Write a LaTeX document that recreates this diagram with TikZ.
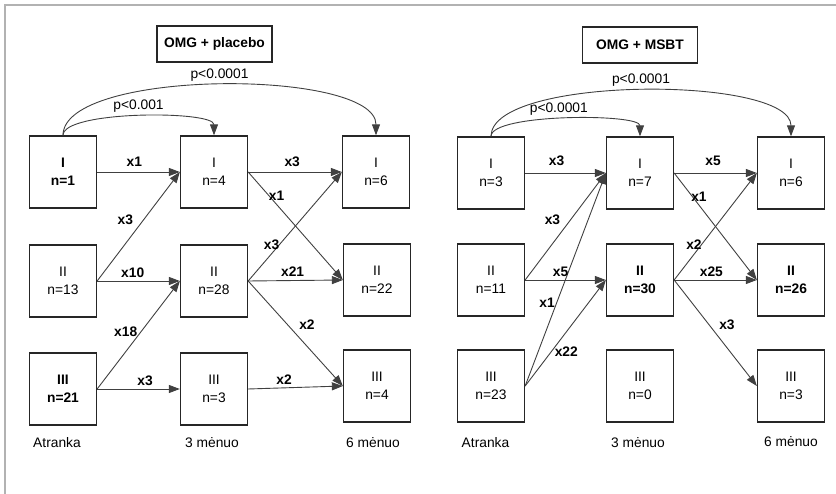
\documentclass[tikz,border=0pt]{standalone}
\usepackage{fontspec}
\setmainfont{Liberation Sans}
\usetikzlibrary{positioning}
\usetikzlibrary{arrows.meta}

\newcommand{\figfont}{\fontsize{13.8}{18.5}\selectfont}

\tikzset{
  grp/.style={draw=black!85, line width=1.3pt, minimum width=67pt,
    minimum height=72pt, align=center, inner sep=2pt},
  hl/.style={font=\figfont\bfseries},
  arm/.style={draw=black!75, line width=0.9pt,
    -{Triangle[length=11pt,width=8pt]}},
  lbl/.style={font=\figfont\bfseries},
  title/.style={draw=black!85, line width=1.3pt, minimum width=115pt,
    minimum height=36pt, font=\figfont\bfseries},
  pval/.style={font=\figfont},
}

\begin{document}
\begin{tikzpicture}[x=1pt, y=-1pt, font=\figfont]
\useasboundingbox (0,0) rectangle (836,494);
\draw[black!30, line width=1.5pt] (5,494) -- (5,5) -- (836,5);

% OMG + placebo
\node[title] (tl) at (214.5,44) {OMG + placebo};
\node[grp,hl] (L11) at (63,172) {I\\n=1};
\node[grp] (L12) at (214,172) {I\\n=4};
\node[grp] (L13) at (376,172) {I\\n=6};
\node[grp] (L21) at (63,281) {II\\n=13};
\node[grp] (L22) at (214,281) {II\\n=28};
\node[grp] (L23) at (377,280) {II\\n=22};
\node[grp,hl] (L31) at (63,389) {III\\n=21};
\node[grp] (L32) at (214,389) {III\\n=3};
\node[grp] (L33) at (377,386) {III\\n=4};
\node[below=8pt of L31, xshift=-6pt] (la1) {Atranka};
\node[below=8pt of L32, xshift=-2pt] (la2) {3 mėnuo};
\node[below=11pt of L33, xshift=-4pt] (la3) {6 mėnuo};

\draw[arm] (L11.north) .. controls +(0,-25) and +(0,-25) .. (L12.north)
  node[pval, pos=0.5, above] {p<0.001};
\draw[arm] (L11.north) .. controls +(0,-67) and +(0,-67) .. (L13.north)
  node[pval, pos=0.5, above] {p<0.0001};
\draw[arm] (L11.east) -- node[lbl, pos=0.45, above=2pt] {x1} (L12.west);
\draw[arm] (L21.east) -- node[lbl, pos=0.48, above left] {x3} (L12.west);
\draw[arm] (L21.east) -- node[lbl, pos=0.43, above] {x10} (L22.west);
\draw[arm] (L31.east) -- node[lbl, pos=0.53, left] {x18} (L22.west);
\draw[arm] (L31.east) -- node[lbl, pos=0.58, above] {x3} (L32.west);
\draw[arm] (L12.east) -- node[lbl, pos=0.47, above=2pt] {x3} (L13.west);
\draw[arm] (L12.east) -- node[lbl, pos=0.3, above] {x1} (L23.west);
\draw[arm] (L22.east) -- node[lbl, pos=0.33, left=-4pt] {x3} (L13.west);
\draw[arm] (L22.east) -- node[lbl, pos=0.47, above] {x21} (L23.west);
\draw[arm] (L22.east) -- node[lbl, pos=0.5, above right] {x2} (L33.west);
\draw[arm] (L32.east) -- node[lbl, pos=0.38, above] {x2} (L33.west);

% OMG + MSBT
\node[title] (tr) at (640,45) {OMG + MSBT};
\node[grp] (R11) at (491,173) {I\\n=3};
\node[grp] (R12) at (640,173) {I\\n=7};
\node[grp] (R13) at (791,173) {I\\n=6};
\node[grp] (R21) at (491,280) {II\\n=11};
\node[grp,hl] (R22) at (640,280) {II\\n=30};
\node[grp,hl] (R23) at (791,280) {II\\n=26};
\node[grp] (R31) at (491,386) {III\\n=23};
\node[grp] (R32) at (640,386) {III\\n=0};
\node[grp] (R33) at (791,386) {III\\n=3};
\node[below=11pt of R31, xshift=-5.5pt] (ra1) {Atranka};
\node[below=11pt of R32, xshift=-2pt] (ra2) {3 mėnuo};
\node[below=10pt of R33] (ra3) {6 mėnuo};

\draw[arm] (R11.north) .. controls +(0,-23) and +(0,-23) .. (R12.north)
  node[pval, pos=0.47, above] {p<0.0001};
\draw[arm] (R11.north) .. controls +(0,-61) and +(0,-61) .. (R13.north)
  node[pval, pos=0.5, above] {p<0.0001};
\draw[arm] (R11.east) -- node[lbl, pos=0.39, above=4pt] {x3} (R12.west);
\draw[arm] (R21.east) -- node[lbl, pos=0.48, above left] {x3} (R12.west);
\draw[arm] (R31.east) -- node[lbl, pos=0.39, left=-2pt] {x1} (R12.west);
\draw[arm] (R21.east) -- node[lbl, pos=0.44, above] {x5} (R22.west);
\draw[arm] (R31.east) -- node[lbl, pos=0.32, right] {x22} (R22.west);
\draw[arm] (R12.east) -- node[lbl, pos=0.47, above=4pt] {x5} (R13.west);
\draw[arm] (R12.east) -- node[lbl, pos=0.3, above] {x1} (R23.west);
\draw[arm] (R22.east) -- node[lbl, pos=0.33, left=-4pt] {x2} (R13.west);
\draw[arm] (R22.east) -- node[lbl, pos=0.45, above] {x25} (R23.west);
\draw[arm] (R22.east) -- node[lbl, pos=0.5, above right] {x3} (R33.west);
\end{tikzpicture}
\end{document}
